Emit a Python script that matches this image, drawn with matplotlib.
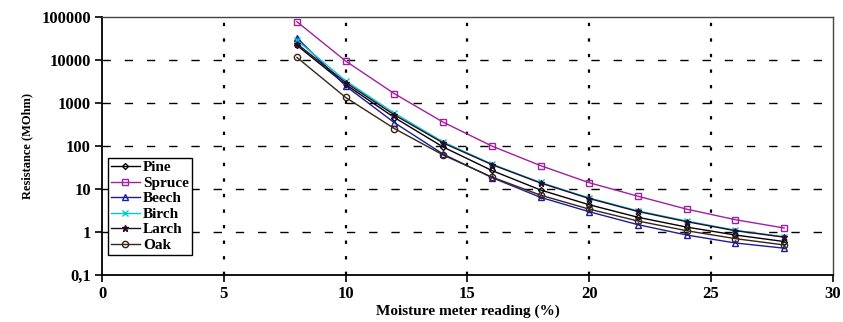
import matplotlib.pyplot as plt
from matplotlib.ticker import FixedLocator, FuncFormatter, NullLocator

moisture = [8, 10, 12, 14, 16, 18, 20, 22, 24, 26, 28]

pine = [22000, 2700, 460, 95, 27, 9.5, 4.3, 2.2, 1.3, 0.85, 0.6]
spruce = [78000, 9500, 1650, 360, 100, 35, 14, 6.8, 3.4, 1.93, 1.24]
beech = [33000, 2500, 350, 65, 18.5, 6.4, 2.96, 1.48, 0.85, 0.555, 0.42]
birch = [29000, 3300, 580, 125, 38, 14.2, 6.2, 3.1, 1.8, 1.1, 0.77]
larch = [24000, 3000, 530, 118, 37, 13.8, 6.0, 3.0, 1.74, 1.07, 0.76]
oak = [11500, 1350, 255, 62, 19, 7.2, 3.4, 1.8, 1.07, 0.7, 0.5]

series = [
    ('Pine', pine, '#000000', 'D', 'none', 3),
    ('Spruce', spruce, '#A020A0', 's', 'none', 5),
    ('Beech', beech, '#1C1C9C', '^', 'none', 5),
    ('Birch', birch, '#00CCCC', 'x', None, 5),
    ('Larch', larch, '#2A0A2A', '*', None, 5),
    ('Oak', oak, '#3A2418', 'o', 'none', 4.5),
]

x_ticks = [0, 5, 10, 15, 20, 25, 30]
y_ticks = [0.1, 1, 10, 100, 1000, 10000, 100000]

plt.rcParams['font.family'] = ['Liberation Serif', 'DejaVu Serif']
plt.rcParams['font.weight'] = 'bold'

fig = plt.figure(figsize=(8.43, 3.22), dpi=100)
ax = fig.add_axes([0.121, 0.146, 0.867, 0.801])

for name, values, color, marker, face, size in series:
    ax.plot(moisture, values, color=color, marker=marker, markersize=size,
            markerfacecolor=face if face else color, markeredgecolor=color,
            markeredgewidth=1.0, linewidth=1.0, label=name)

ax.set_yscale('log')
ax.set_xlim(0, 30)
ax.set_ylim(0.1, 100000)
ax.xaxis.set_major_locator(FixedLocator(x_ticks))
ax.yaxis.set_major_locator(FixedLocator(y_ticks))
ax.yaxis.set_minor_locator(NullLocator())
ax.yaxis.set_major_formatter(FuncFormatter(lambda v, p: '0,1' if v < 1 else '%d' % round(v)))

for xv in x_ticks[1:-1]:
    ax.axvline(xv, color='black', linewidth=1.6, linestyle=(0, (1.5, 5.5)), zorder=0)
for yv in y_ticks[1:-1]:
    ax.axhline(yv, color='black', linewidth=1.0, linestyle=(0, (6, 10)), zorder=0)

for side in ['left', 'bottom']:
    ax.spines[side].set_linewidth(1.3)
    ax.spines[side].set_color('black')
for side in ['top', 'right']:
    ax.spines[side].set_linewidth(1.0)
    ax.spines[side].set_color('#444444')

ax.tick_params(axis='both', direction='out', length=5, width=1.2, labelsize=12, pad=3)

ax.set_xlabel('Moisture meter reading (%)', fontsize=11, fontweight='bold', labelpad=2)
ax.set_ylabel('Resistance (MOhm)', fontsize=9, fontweight='bold', labelpad=6)

leg = ax.legend(loc='upper left', bbox_to_anchor=(0.008, 0.455), fontsize=11,
                frameon=True, fancybox=False, edgecolor='black', framealpha=1,
                handlelength=1.9, handletextpad=0.2, borderpad=0.2, labelspacing=0.12,
                borderaxespad=0)
leg.get_frame().set_linewidth(1.0)

fig.savefig('out.png', dpi=100)
